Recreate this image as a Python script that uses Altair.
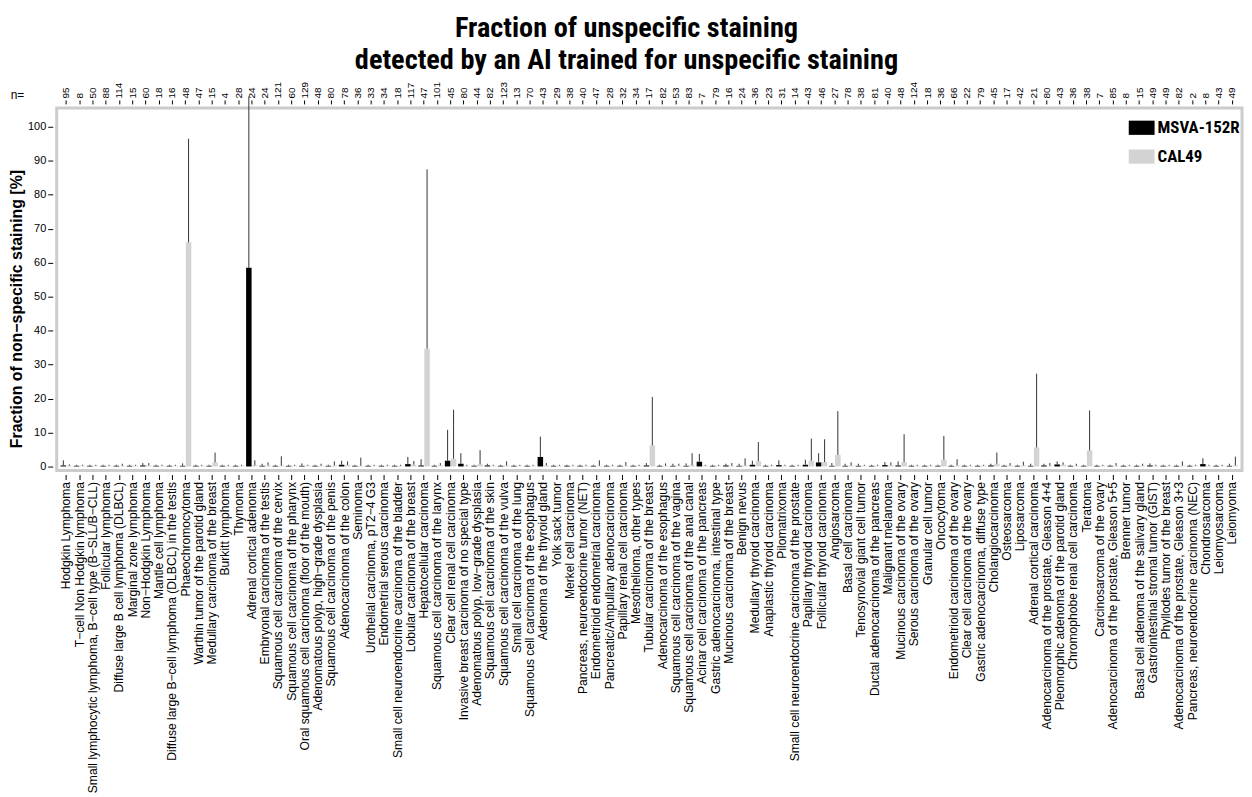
import json
import altair as alt
import pandas as pd

categories = [
    "Hodgkin Lymphoma",
    "T−cell Non Hodgkin lymphoma",
    "Small lymphocytic lymphoma, B−cell type (B−SLL/B−CLL)",
    "Follicular lymphoma",
    "Diffuse large B cell lymphoma (DLBCL)",
    "Marginal zone lymphoma",
    "Non−Hodgkin Lymphoma",
    "Mantle cell lymphoma",
    "Diffuse large B−cell lymphoma (DLBCL) in the testis",
    "Phaeochromocytoma",
    "Warthin tumor of the parotid gland",
    "Medullary carcinoma of the breast",
    "Burkitt lymphoma",
    "Thymoma",
    "Adrenal cortical adenoma",
    "Embryonal carcinoma of the testis",
    "Squamous cell carcinoma of the cervix",
    "Squamous cell carcinoma of the pharynx",
    "Oral squamous cell carcinoma (floor of the mouth)",
    "Adenomatous polyp, high−grade dysplasia",
    "Squamous cell carcinoma of the penis",
    "Adenocarcinoma of the colon",
    "Seminoma",
    "Urothelial carcinoma, pT2−4 G3",
    "Endometrial serous carcinoma",
    "Small cell neuroendocrine carcinoma of the bladder",
    "Lobular carcinoma of the breast",
    "Hepatocellular carcinoma",
    "Squamous cell carcinoma of the larynx",
    "Clear cell renal cell carcinoma",
    "Invasive breast carcinoma of no special type",
    "Adenomatous polyp, low−grade dysplasia",
    "Squamous cell carcinoma of the skin",
    "Squamous cell carcinoma of the vulva",
    "Small cell carcinoma of the lung",
    "Squamous cell carcinoma of the esophagus",
    "Adenoma of the thyroid gland",
    "Yolk sack tumor",
    "Merkel cell carcinoma",
    "Pancreas, neuroendocrine tumor (NET)",
    "Endometrioid endometrial carcinoma",
    "Pancreatic/Ampullary adenocarcinoma",
    "Papillary renal cell carcinoma",
    "Mesothelioma, other types",
    "Tubular carcinoma of the breast",
    "Adenocarcinoma of the esophagus",
    "Squamous cell carcinoma of the vagina",
    "Squamous cell carcinoma of the anal canal",
    "Acinar cell carcinoma of the pancreas",
    "Gastric adenocarcinoma, intestinal type",
    "Mucinous carcinoma of the breast",
    "Benign nevus",
    "Medullary thyroid carcinoma",
    "Anaplastic thyroid carcinoma",
    "Pilomatrixoma",
    "Small cell neuroendocrine carcinoma of the prostate",
    "Papillary thyroid carcinoma",
    "Follicular thyroid carcinoma",
    "Angiosarcoma",
    "Basal cell carcinoma",
    "Tenosynovial giant cell tumor",
    "Ductal adenocarcinoma of the pancreas",
    "Malignant melanoma",
    "Mucinous carcinoma of the ovary",
    "Serous carcinoma of the ovary",
    "Granular cell tumor",
    "Oncocytoma",
    "Endometrioid carcinoma of the ovary",
    "Clear cell carcinoma of the ovary",
    "Gastric adenocarcinoma, diffuse type",
    "Cholangiocarcinoma",
    "Osteosarcoma",
    "Liposarcoma",
    "Adrenal cortical carcinoma",
    "Adenocarcinoma of the prostate, Gleason 4+4",
    "Pleomorphic adenoma of the parotid gland",
    "Chromophobe renal cell carcinoma",
    "Teratoma",
    "Carcinosarcoma of the ovary",
    "Adenocarcinoma of the prostate, Gleason 5+5",
    "Brenner tumor",
    "Basal cell adenoma of the salivary gland",
    "Gastrointestinal stromal tumor (GIST)",
    "Phyllodes tumor of the breast",
    "Adenocarcinoma of the prostate, Gleason 3+3",
    "Pancreas, neuroendocrine carcinoma (NEC)",
    "Chondrosarcoma",
    "Leiomyosarcoma",
    "Leiomyoma",
]

n_values = [
    95, 8, 50, 88, 114, 15, 60, 18, 16, 48,
    47, 15, 4, 28, 24, 24, 121, 60, 129, 48,
    80, 78, 36, 33, 34, 18, 117, 47, 101, 45,
    80, 44, 82, 123, 13, 70, 43, 29, 38, 40,
    47, 28, 32, 34, 17, 82, 53, 83, 7, 79,
    16, 24, 36, 23, 31, 14, 43, 46, 27, 78,
    38, 81, 40, 48, 124, 18, 36, 66, 22, 79,
    45, 17, 42, 21, 80, 43, 36, 38, 7, 85,
    8, 15, 49, 49, 82, 2, 8, 43, 49,
]

msva = [
    0.3, 0.2, 0.2, 0.2, 0.2, 0.2, 0.3, 0.2, 0.2, 0.2,
    0.2, 0.2, 0.2, 0.2, 58.5, 0.2, 0.2, 0.2, 0.2, 0.2,
    0.2, 0.5, 0.2, 0.2, 0.2, 0.2, 0.7, 0.3, 0.2, 1.7,
    0.8, 0.2, 0.3, 0.2, 0.2, 0.2, 2.8, 0.2, 0.2, 0.2,
    0.2, 0.2, 0.2, 0.2, 0.3, 0.2, 0.2, 0.2, 1.4, 0.2,
    0.3, 0.2, 0.5, 0.2, 0.4, 0.2, 0.5, 1.2, 0.2, 0.2,
    0.2, 0.2, 0.4, 0.3, 0.2, 0.2, 0.2, 0.2, 0.2, 0.2,
    0.3, 0.2, 0.2, 0.2, 0.3, 0.6, 0.2, 0.2, 0.2, 0.2,
    0.2, 0.2, 0.3, 0.2, 0.2, 0.2, 0.7, 0.2, 0.2,
]

msva_top = [
    1.8, 0.5, 0.5, 0.5, 0.5, 0.5, 1.0, 0.5, 0.5, 0.9,
    0.5, 0.5, 0.5, 0.5, 109.0, 0.8, 0.5, 0.5, 0.9, 0.5,
    0.5, 1.7, 0.5, 0.5, 0.5, 0.5, 2.8, 2.1, 0.5, 10.8,
    3.9, 0.5, 0.8, 0.5, 0.5, 0.5, 8.8, 0.5, 0.5, 0.5,
    0.5, 0.5, 0.5, 0.5, 1.0, 0.5, 0.8, 0.9, 3.7, 0.5,
    0.8, 0.8, 1.7, 0.5, 1.8, 0.5, 2.0, 3.9, 1.0, 0.8,
    0.8, 0.5, 1.3, 1.5, 0.5, 0.5, 0.5, 0.5, 0.5, 0.5,
    0.8, 0.5, 0.5, 0.8, 0.8, 1.5, 0.5, 0.5, 0.5, 0.5,
    0.5, 0.5, 0.9, 0.5, 0.5, 0.5, 2.4, 0.5, 0.8,
]

cal49 = [
    0.2, 0.2, 0.2, 0.2, 0.2, 0.2, 0.3, 0.2, 0.2, 66.0,
    0.2, 1.2, 0.2, 0.2, 0.3, 0.3, 0.2, 0.2, 0.2, 0.2,
    0.3, 0.4, 0.2, 0.2, 0.2, 0.2, 0.5, 34.7, 0.3, 2.3,
    0.2, 0.6, 0.2, 0.3, 0.2, 0.2, 0.3, 0.2, 0.2, 0.2,
    0.2, 0.2, 0.2, 0.2, 6.2, 0.2, 0.2, 0.4, 0.2, 0.2,
    0.2, 0.3, 1.5, 0.2, 0.2, 0.2, 1.7, 1.3, 3.4, 0.3,
    0.2, 0.2, 0.3, 1.3, 0.2, 0.2, 2.0, 0.3, 0.2, 0.2,
    0.8, 0.3, 0.3, 5.6, 0.2, 0.5, 0.2, 4.7, 0.2, 0.2,
    0.2, 0.2, 0.2, 0.2, 0.2, 0.2, 0.2, 0.2, 0.3,
]

cal49_top = [
    0.6, 0.5, 0.5, 0.5, 0.8, 0.5, 1.0, 0.5, 0.5, 96.5,
    0.5, 4.1, 0.5, 0.5, 1.8, 1.2, 3.0, 0.5, 0.5, 0.8,
    1.5, 1.5, 2.6, 0.5, 0.5, 0.5, 1.6, 87.5, 1.0, 16.7,
    0.5, 4.8, 0.5, 1.5, 0.5, 0.5, 1.0, 0.5, 0.5, 0.5,
    1.8, 0.5, 1.3, 0.5, 20.5, 0.9, 0.8, 3.9, 0.5, 0.5,
    1.0, 2.4, 7.2, 0.5, 0.5, 0.5, 8.2, 8.0, 16.3, 1.2,
    0.5, 0.5, 1.2, 9.5, 0.5, 0.5, 9.0, 2.1, 0.5, 0.5,
    4.1, 1.0, 1.4, 27.3, 1.0, 1.2, 0.8, 16.5, 0.5, 1.0,
    0.5, 0.8, 0.5, 0.5, 1.5, 0.5, 0.5, 0.5, 2.9,
]

series_names = ["MSVA-152R", "CAL49"]
series_colors = ["#000000", "#d3d3d3"]
y_ticks = [0, 10, 20, 30, 40, 50, 60, 70, 80, 90, 100]

rows = []
for i, cat in enumerate(categories):
    rows.append({"category": cat, "series": series_names[0], "value": msva[i], "top": msva_top[i]})
    rows.append({"category": cat, "series": series_names[1], "value": cal49[i], "top": cal49_top[i]})
df = pd.DataFrame(rows)

n_expr = "{}[indexof({}, datum.value)]".format(
    json.dumps([str(v) for v in n_values], ensure_ascii=False),
    json.dumps(categories, ensure_ascii=False),
)

SANS = "Liberation Sans, Arimo, Arial, sans-serif"
NARROW = "Liberation Sans Narrow, Arial Narrow, Roboto Condensed, DejaVu Sans Condensed, sans-serif"

x_scale = alt.Scale(paddingInner=0, paddingOuter=0.227)
off_scale = alt.Scale(paddingInner=0.08, paddingOuter=0.15)
y_scale = alt.Scale(domain=[-1.2, 105.6], nice=False, zero=False)

y_axis = alt.Axis(
    values=y_ticks,
    labelOverlap=False,
    labelFont=SANS,
    labelFontSize=11,
    labelColor="black",
    tickSize=5,
    tickColor="black",
    offset=4,
    domain=False,
    grid=False,
    titleFont=SANS,
    titleFontSize=16,
    titleFontWeight="bold",
    titleColor="black",
    titlePadding=3,
    titleY=202,
)
y_title = "Fraction of non−specific staining [%]"

base = alt.Chart(df)

bars = base.mark_bar().encode(
    x=alt.X(
        "category:N",
        sort=categories,
        scale=x_scale,
        title=None,
        axis=alt.Axis(
            orient="bottom",
            labelAngle=-90,
            labelFont=SANS,
            labelFontSize=12.2,
            labelColor="black",
            labelLimit=400,
            labelPadding=2,
            tickSize=5,
            tickColor="black",
            offset=4,
            domain=False,
        ),
    ),
    xOffset=alt.XOffset("series:N", sort=series_names, scale=off_scale),
    y=alt.Y("value:Q", scale=y_scale, title=y_title, axis=y_axis),
    y2=alt.datum(0),
    color=alt.Color(
        "series:N",
        sort=series_names,
        scale=alt.Scale(domain=series_names, range=series_colors),
        legend=alt.Legend(
            title=None,
            orient="none",
            legendX=1079,
            legendY=7,
            padding=0,
            labelLimit=300,
            symbolType="M-1,-0.55H1V0.55H-1Z",
            symbolSize=676,
            symbolStrokeWidth=0,
            labelFont=NARROW,
            labelFontSize=17,
            labelFontWeight="bold",
            labelColor="black",
            labelOffset=3,
            rowPadding=8,
        ),
    ),
)

rules = base.mark_rule(color="#333333", strokeWidth=1).encode(
    x=alt.X(
        "category:N",
        sort=categories,
        scale=x_scale,
        title="n=",
        axis=alt.Axis(
            orient="top",
            labelExpr=n_expr,
            labelAngle=-90,
            labelAlign="left",
            labelBaseline="middle",
            labelFont=SANS,
            labelFontSize=10,
            labelColor="black",
            labelPadding=2,
            tickSize=4,
            tickColor="black",
            offset=4,
            domain=False,
            titleX=-40,
            titleY=-9,
            titleAngle=0,
            titleAlign="center",
            titleBaseline="middle",
            titleFont=SANS,
            titleFontSize=12,
            titleFontWeight="normal",
            titleColor="black",
        ),
    ),
    xOffset=alt.XOffset("series:N", sort=series_names, scale=off_scale),
    y=alt.Y("value:Q", scale=y_scale, title=y_title, axis=y_axis),
    y2=alt.Y2("top:Q"),
)

chart = (
    alt.layer(bars, rules)
    .resolve_axis(x="independent")
    .properties(
        width=1193,
        height=365,
        autosize=alt.AutoSizeParams(type="none"),
        padding={"left": 49, "top": 98, "right": 2, "bottom": 322},
        title=alt.TitleParams(
            text=[
                "Fraction of unspecific staining",
                "detected by an AI trained for unspecific staining",
            ],
            font=NARROW,
            fontSize=28.5,
            fontWeight="bold",
            color="black",
            anchor="middle",
            dx=-23,
            lineHeight=32,
            offset=7,
        ),
    )
    .configure_view(stroke="#cccccc", strokeWidth=3)
    .configure_axis(grid=False)
)

chart.save("out.html", embed_options={"renderer": "svg", "actions": False})
